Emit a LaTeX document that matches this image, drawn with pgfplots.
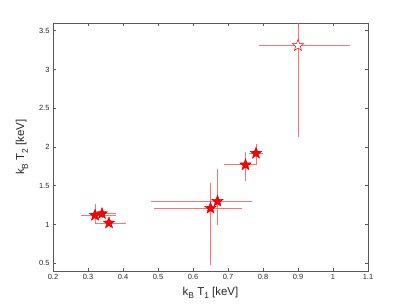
\documentclass[border=0pt]{standalone}
\usepackage{pgfplots}
\pgfplotsset{compat=1.18}
\usepackage{fontspec}
\setmainfont{Liberation Sans}
\pgfdeclareplotmark{fstar}{%
  \pgfpathmoveto{\pgfpointpolar{90}{\pgfplotmarksize}}%
  \pgfpathlineto{\pgfpointpolar{126}{0.42\pgfplotmarksize}}%
  \pgfpathlineto{\pgfpointpolar{162}{\pgfplotmarksize}}%
  \pgfpathlineto{\pgfpointpolar{198}{0.42\pgfplotmarksize}}%
  \pgfpathlineto{\pgfpointpolar{234}{\pgfplotmarksize}}%
  \pgfpathlineto{\pgfpointpolar{270}{0.42\pgfplotmarksize}}%
  \pgfpathlineto{\pgfpointpolar{306}{\pgfplotmarksize}}%
  \pgfpathlineto{\pgfpointpolar{342}{0.42\pgfplotmarksize}}%
  \pgfpathlineto{\pgfpointpolar{18}{\pgfplotmarksize}}%
  \pgfpathlineto{\pgfpointpolar{54}{0.42\pgfplotmarksize}}%
  \pgfpathclose
  \pgfusepathqfillstroke}
\definecolor{ebar}{rgb}{1,0.35,0.35}
\definecolor{axgray}{rgb}{0.35,0.35,0.35}
\newcommand{\sub}[1]{\raisebox{-3.8bp}{\fontsize{8.5}{9}\selectfont #1}}
\pgfplotstableread{
x y xm xp ym yp
0.32 1.12 0.04 0.06 0.11 0.14
0.34 1.14 0.03 0.04 0.05 0.05
0.36 1.02 0.04 0.05 0.03 0.03
0.65 1.21 0.16 0.09 0.73 0.32
0.67 1.30 0.19 0.10 0.30 0.41
0.75 1.77 0.06 0.03 0.21 0.17
0.78 1.92 0.02 0.02 0.15 0.12
}\filled
\pgfplotstableread{
x y xm xp ym yp
0.90 3.31 0.11 0.15 1.18 0.50
}\open
\begin{document}
\begin{tikzpicture}
\begin{axis}[
  scale only axis, width=315bp, height=248bp,
  xmin=0.2, xmax=1.1, ymin=0.4, ymax=3.6,
  xtick={0.2,0.3,0.4,0.5,0.6,0.7,0.8,0.9,1,1.1},
  ytick={0.5,1,1.5,2,2.5,3,3.5},
  tick align=inside, tick pos=both,
  major tick length=3bp,
  axis line style={axgray, line width=0.8bp},
  tick style={axgray, line width=0.6bp},
  /pgf/number format/assume math mode=true,
  ticklabel style={font=\fontsize{7.5}{9}\selectfont, text=black!85},
  label style={font=\fontsize{11.5}{13}\selectfont, text=black!85},
  xlabel={k\sub{B} T\sub{1} [keV]},
  ylabel={k\sub{B} T\sub{2} [keV]},
  xlabel style={at={(axis description cs:0.5,-0.0968)}, anchor=base},
  ylabel style={at={(axis description cs:-0.092,0.5)}, anchor=base},
  error bars/error bar style={ebar, line width=0.8bp, opacity=0.85},
]
\addplot[only marks, mark=fstar, mark size=6bp,
  mark options={fill=red, draw=red!80!black, line width=0.4bp},
  error bars/.cd, x dir=both, x explicit, y dir=both, y explicit, error mark=none]
  table[x=x, y=y, x error plus=xp, x error minus=xm, y error plus=yp, y error minus=ym] {\filled};
\addplot[only marks, mark=fstar, mark size=6bp,
  mark options={fill=white, draw=red, line width=0.5bp},
  error bars/.cd, x dir=both, x explicit, y dir=both, y explicit, error mark=none]
  table[x=x, y=y, x error plus=xp, x error minus=xm, y error plus=yp, y error minus=ym] {\open};
\end{axis}
\path (-53bp,-35bp) rectangle (354bp,271bp);
\end{tikzpicture}
\end{document}
